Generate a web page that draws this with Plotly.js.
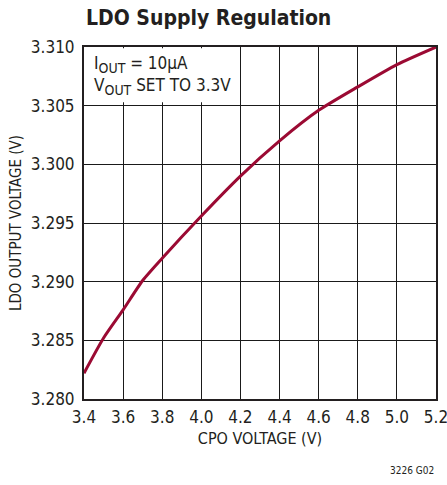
<!DOCTYPE html>
<html><head><meta charset="utf-8">
<script src="https://cdn.plot.ly/plotly-3.0.1.min.js"></script>
<style>html,body{margin:0;padding:0;background:#fff}#c{width:447px;height:485px}</style>
</head><body><div id="c"></div>
<script>
const cpoVoltage = [3.4, 3.5, 3.6, 3.7, 3.8, 4.0, 4.2, 4.4, 4.6, 4.8, 5.0, 5.2];
const ldoVoltage = [3.2822, 3.2852, 3.2876, 3.2901, 3.2920, 3.2956, 3.2990, 3.3020, 3.3046, 3.3066, 3.3085, 3.3100];
const xTicks = [3.4, 3.6, 3.8, 4.0, 4.2, 4.4, 4.6, 4.8, 5.0, 5.2];
const xTickLabels = ["3.4","3.6","3.8","4.0","4.2","4.4","4.6","4.8","5.0","5.2"];
const yTicks = [3.280, 3.285, 3.290, 3.295, 3.300, 3.305, 3.310];
const yTickLabels = ["3.280","3.285","3.290","3.295","3.300","3.305","3.310"];

const FONT = '"DejaVu Sans Condensed", "DejaVu Sans", sans-serif';
const trace = {
  x: cpoVoltage, y: ldoVoltage, type: 'scatter', mode: 'lines',
  line: {color: '#9b0a33', width: 3, shape: 'spline', smoothing: 0.6},
  hoverinfo: 'skip'
};
const layout = {
  width: 447, height: 485,
  margin: {l: 84, r: 11, t: 47, b: 86},
  paper_bgcolor: '#fff', plot_bgcolor: '#fff',
  showlegend: false,
  font: {family: FONT, color: '#231f20', size: 16},
  xaxis: {
    range: [3.4, 5.2], tickvals: xTicks, ticktext: xTickLabels,
    showgrid: true, gridcolor: '#1a1a1a', gridwidth: 1,
    showline: true, linecolor: '#231f20', linewidth: 2, mirror: true,
    ticks: '', zeroline: false, tickfont: {size: 17}, ticklabelstandoff: 2,
    ticklabeloverflow: 'allow',
    title: {text: 'CPO VOLTAGE (V)', font: {size: 16}, standoff: 6}
  },
  yaxis: {
    range: [3.280, 3.310], tickvals: yTicks, ticktext: yTickLabels,
    showgrid: true, gridcolor: '#1a1a1a', gridwidth: 1,
    showline: true, linecolor: '#231f20', linewidth: 2, mirror: true,
    ticks: '', zeroline: false, tickfont: {size: 17}, ticklabelstandoff: 4,
    ticklabeloverflow: 'allow',
    title: {text: 'LDO OUTPUT VOLTAGE (V)', font: {size: 15}, standoff: 6}
  },
  shapes: [{
    type: 'rect', xref: 'x', yref: 'y', layer: 'between',
    x0: 3.401, x1: 4.185, y0: 3.3053, y1: 3.3099,
    fillcolor: '#fff', line: {width: 0}
  }],
  annotations: [
    {text: '<b>LDO Supply Regulation</b>', xref: 'paper', yref: 'paper', x: 0, y: 1,
     xanchor: 'left', yanchor: 'bottom', yshift: 15, showarrow: false, font: {size: 21, color: '#231f20'}},
    {text: 'I<sub><span style="font-size:14px">OUT</span></sub> = 10µA<br>V<sub><span style="font-size:14px">OUT</span></sub> SET TO 3.3V',
     xref: 'x', yref: 'y', x: 3.44, y: 3.3097,
     xanchor: 'left', yanchor: 'top', align: 'left', showarrow: false, font: {size: 17, color: '#231f20'}},
    {text: '3226 G02', xref: 'paper', yref: 'paper', x: 1, y: 0, xanchor: 'right', yanchor: 'top',
     yshift: -64, xshift: 0, showarrow: false, font: {size: 10, color: '#231f20'}}
  ]
};
Plotly.newPlot('c', [trace], layout, {displayModeBar: false, staticPlot: true});
</script></body></html>
